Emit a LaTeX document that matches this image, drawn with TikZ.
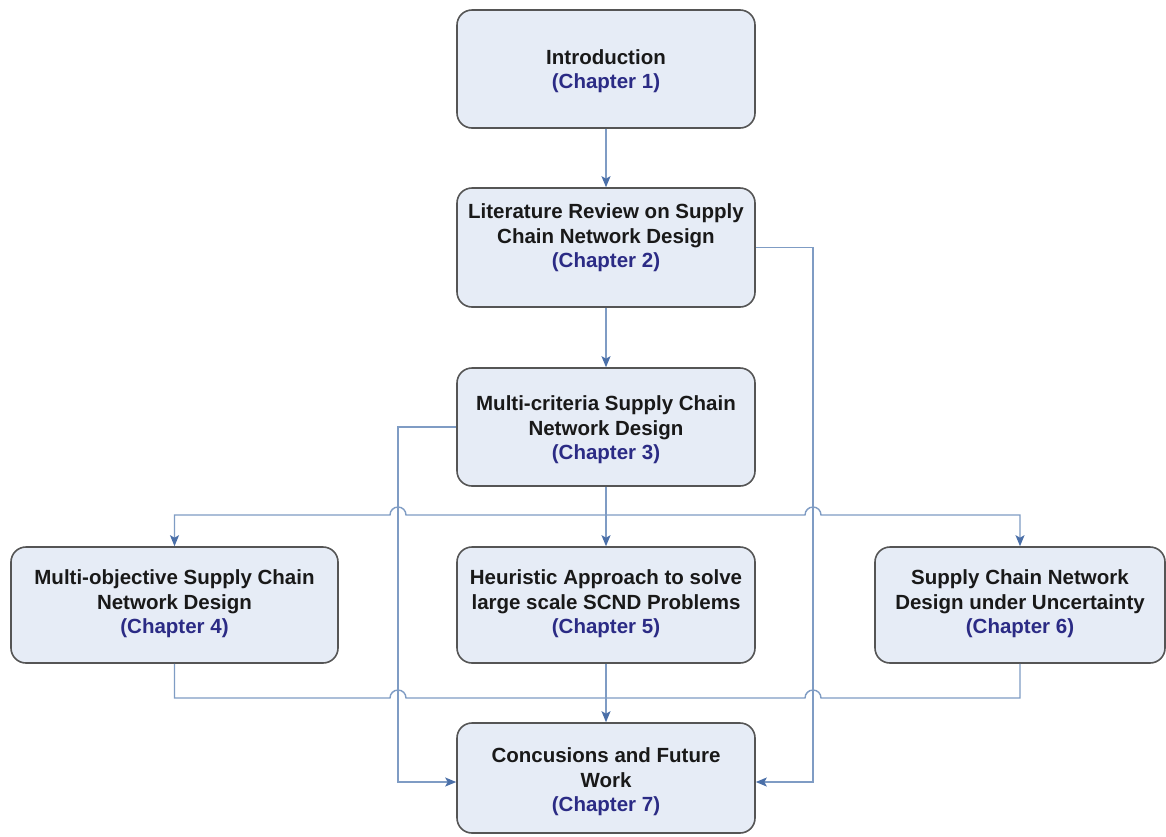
\documentclass[tikz,border=0pt]{standalone}
\usepackage{fontspec}
\setmainfont{Liberation Sans}
\usetikzlibrary{arrows.meta,calc}
\definecolor{boxfill}{HTML}{E6ECF6}
\definecolor{boxline}{HTML}{555555}
\definecolor{wire}{HTML}{7F9CC4}
\definecolor{tipblue}{HTML}{4A6FA8}
\definecolor{chap}{HTML}{2B2B85}
\newcommand{\chapref}[1]{{\color{chap}(Chapter #1)}}
\begin{document}
\begin{tikzpicture}[x=1pt,y=1pt,
  box/.style={draw=boxline, line width=1.6pt, fill=boxfill, rounded corners=15pt, inner sep=0pt},
  txt/.style={align=center, font=\fontsize{20.5}{24.5}\selectfont\bfseries, text=black!90, inner sep=0pt},
  wire/.style={draw=wire, line width=1.4pt, -{Stealth[length=11pt,width=9pt,inset=2.5pt,color=tipblue]}},
  plainwire/.style={draw=wire, line width=1.4pt}
]
\fill[white] (0,0) rectangle (1166,-836);
\useasboundingbox (0,0) rectangle (1166,-836);

% bus lines
\coordinate (lbus) at (398,0);
\coordinate (rbus) at (813,0);
\coordinate (split) at (606,-515);
\coordinate (merge) at (606,-698);

% boxes
\node[box, minimum width=298, minimum height=118] (intro) at (606,-69) {};
\node[box, minimum width=298, minimum height=119] (lit) at (606,-247.5) {};
\node[box, minimum width=298, minimum height=118] (crit) at (606,-427) {};
\node[box, minimum width=327, minimum height=116] (obj) at (174.5,-605) {};
\node[box, minimum width=298, minimum height=116] (heur) at (606,-605) {};
\node[box, minimum width=290, minimum height=116] (unc) at (1020,-605) {};
\node[box, minimum width=298, minimum height=110] (conc) at (606,-778) {};

% labels
\node[txt] (introt) at (606,-71) {Introduction\\\chapref{1}};
\node[txt] (litt) at (606,-238) {Literature Review on Supply\\Chain Network Design\\\chapref{2}};
\node[txt] (critt) at (606,-430) {Multi-criteria Supply Chain\\Network Design\\\chapref{3}};
\node[txt] (objt) at (174.5,-604) {Multi-objective Supply Chain\\Network Design\\\chapref{4}};
\node[txt] (heurt) at (606,-604) {Heuristic Approach to solve\\large scale SCND Problems\\\chapref{5}};
\node[txt] (unct) at (1020,-604) {Supply Chain Network\\Design under Uncertainty\\\chapref{6}};
\node[txt] (conct) at (606,-782) {Concusions and Future\\Work\\\chapref{7}};

% main chain
\draw[wire] (intro.south) -- (lit.north);
\draw[wire] (lit.south) -- (crit.north);
\draw[wire] (crit.south) -- (heur.north);
\draw[wire] (heur.south) -- (conc.north);

% side links to the conclusions
\draw[wire] (lit.east) -- (lit.east -| rbus) -- ($(conc.east -| rbus)+(0,-4)$) -- ($(conc.east)+(0,-4)$);
\draw[wire] (crit.west) -- (crit.west -| lbus) -- ($(conc.west -| lbus)+(0,-4)$) -- ($(conc.west)+(0,-4)$);

% split from chapter 3, hopping over the side links
\draw[wire] (split) -- ($(split -| rbus)+(-8,0)$) arc[start angle=180,end angle=0,radius=8]
  -- (unc.north |- split) -- (unc.north);
\draw[wire] (split) -- ($(split -| lbus)+(8,0)$) arc[start angle=0,end angle=180,radius=8]
  -- (obj.north |- split) -- (obj.north);

% merge of chapters 4 and 6
\draw[plainwire] (obj.south) -- (obj.south |- merge) -- ($(merge -| lbus)+(-8,0)$)
  arc[start angle=180,end angle=0,radius=8] -- ($(merge -| rbus)+(-8,0)$)
  arc[start angle=180,end angle=0,radius=8] -- (unc.south |- merge) -- (unc.south);
\end{tikzpicture}
\end{document}
